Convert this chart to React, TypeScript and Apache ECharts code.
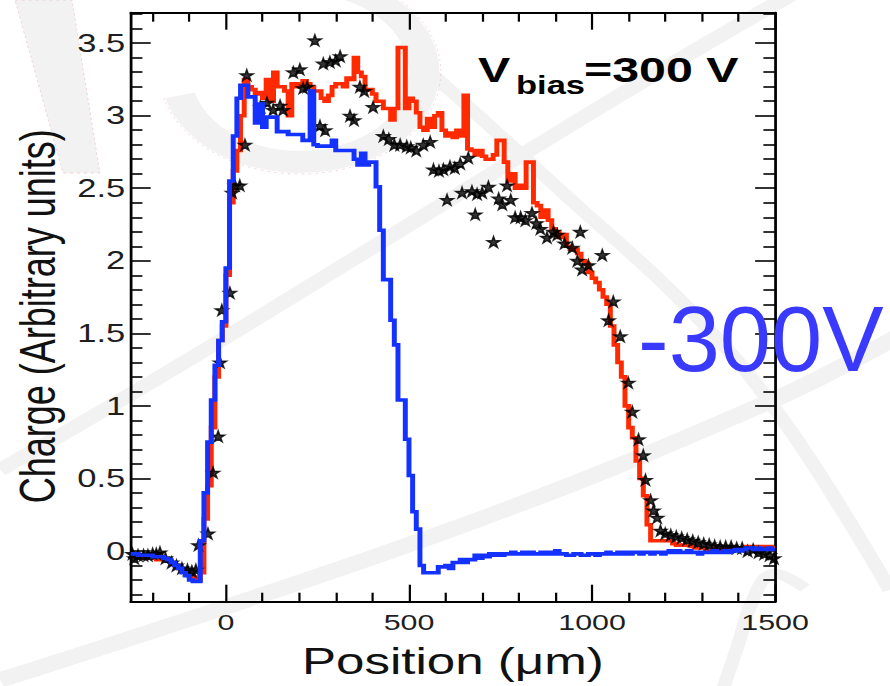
import { useEffect, useRef } from "react";
import * as echarts from "echarts";

// The whole figure is drawn in a narrower frame and widened horizontally.
const STRETCH = 1.38;
const PAGE_W = 890;
const PAGE_H = 686;
const sx = (px: number) => px / STRETCH;

const FONT = '"Liberation Sans", Arial, Helvetica, sans-serif';

const X_MIN = -260;
const X_MAX = 1500;
const Y_MIN = -0.35;
const Y_MAX = 3.71;

// Histogram binning (left edge of the first bin, bin width), in µm
const BIN_START = -260;
const BIN_WIDTH = 10;

const xMajorTicks = [0, 500, 1000, 1500];
const xMinorTicks = [-200, -100, 100, 200, 300, 400, 600, 700, 800, 900, 1100, 1200, 1300, 1400];
const yMajorTicks = [0, 0.5, 1, 1.5, 2, 2.5, 3, 3.5];
const yMinorTicks = [
  -0.3, -0.2, -0.1, 0.1, 0.2, 0.3, 0.4, 0.6, 0.7, 0.8, 0.9, 1.1, 1.2, 1.3, 1.4, 1.6, 1.7,
  1.8, 1.9, 2.1, 2.2, 2.3, 2.4, 2.6, 2.7, 2.8, 2.9, 3.1, 3.2, 3.3, 3.4, 3.6, 3.7,
];

// Simulated charge, red histogram (10 µm bins from -260 µm)
const redCharge = [
  -0.03, -0.04, -0.05, -0.04, -0.04, -0.03, -0.05, -0.06, -0.05, -0.06,
  -0.07, -0.09, -0.1, -0.12, -0.14, -0.15, -0.17, -0.18, -0.2, -0.15,
  0.22, 0.45, 0.85, 1.2, 1.45, 1.55, 1.9, 2.4, 2.62, 2.76,
  3.0, 3.25, 3.2, 3.18, 3.15, 3.16, 3.12, 3.25, 3.1, 3.3,
  3.2, 3.2, 3.17, 3.0, 3.22, 3.2, 3.22, 3.24, 3.22, 3.2,
  3.17, 3.17, 3.12, 3.1, 3.14, 3.2, 3.22, 3.22, 3.2, 3.26,
  3.25, 3.4, 3.3, 3.27, 3.18, 3.18, 3.15, 3.1, 3.1, 3.05,
  3.05, 2.97, 3.05, 3.47, 3.47, 3.05, 3.12, 3.1, 3.02, 2.92,
  2.9, 2.98, 2.92, 3.0, 3.02, 2.9, 2.86, 2.88, 2.85, 2.9,
  2.86, 3.14, 2.77, 2.76, 2.73, 2.76, 2.72, 2.7, 2.7, 2.73,
  2.83, 2.83, 2.68, 2.55, 2.6, 2.5, 2.52, 2.5, 2.68, 2.68,
  2.4, 2.38, 2.3, 2.35, 2.28, 2.22, 2.2, 2.16, 2.18, 2.1,
  2.08, 2.08, 2.05, 2.0, 1.98, 1.92, 1.88, 1.85, 1.8, 1.75,
  1.7, 1.55, 1.42, 1.3, 1.2, 1.0, 0.85, 0.78, 0.62, 0.5,
  0.38, 0.18, 0.07, 0.07, 0.07, 0.07, 0.07, 0.07, 0.05, 0.04,
  0.04, 0.04, 0.04, 0.03, 0.02, 0.02, 0.02, 0.01, 0.01, 0.01,
  0.02, 0.01, 0.01, 0.02, 0.01, 0.02, 0.01, 0.02, 0.03, 0.02,
  0.03, 0.02, 0.03, 0.02, 0.03, 0.02,
];

// Simulated charge, blue histogram (10 µm bins from -260 µm)
const blueCharge = [
  -0.02, -0.02, -0.03, -0.03, -0.03, -0.03, -0.04, -0.04, -0.04, -0.05,
  -0.06, -0.08, -0.1, -0.12, -0.15, -0.17, -0.2, -0.21, -0.21, 0.07,
  0.4, 0.75, 1.04, 1.28, 1.45, 1.58, 1.95, 2.55, 2.86, 3.12,
  3.21, 3.21, 3.13, 3.13, 2.95, 3.08, 2.92, 2.99, 2.99, 2.99,
  2.89, 2.89, 2.89, 2.87, 2.87, 2.87, 2.87, 2.83, 2.83, 3.17,
  2.8, 2.79, 2.79, 2.79, 2.79, 2.83, 2.76, 2.76, 2.76, 2.76,
  2.76, 2.7, 2.66, 2.74, 2.66, 2.68, 2.68, 2.51, 2.21, 1.87,
  1.87, 1.59, 1.42, 1.04, 1.04, 0.77, 0.52, 0.27, 0.15, -0.1,
  -0.15, -0.15, -0.15, -0.15, -0.11, -0.11, -0.1, -0.12, -0.08, -0.08,
  -0.06, -0.08, -0.06, -0.06, -0.03, -0.05, -0.03, -0.04, -0.02, -0.03,
  -0.02, -0.03, -0.02, -0.02, -0.01, -0.02, -0.02, -0.01, -0.02, -0.01,
  -0.02, -0.02, -0.01, -0.02, -0.01, -0.02, 0.0, -0.02, -0.02, -0.03,
  -0.03, -0.02, -0.02, -0.03, -0.03, -0.02, -0.02, -0.03, -0.02, -0.02,
  -0.01, -0.02, -0.02, -0.01, -0.02, -0.01, -0.02, -0.01, -0.01, -0.02,
  -0.01, -0.01, -0.02, -0.01, -0.01, -0.02, -0.01, 0.0, -0.01, 0.0,
  -0.01, -0.01, 0.0, -0.01, -0.01, -0.02, -0.01, -0.01, -0.01, 0.0,
  -0.01, -0.01, 0.0, -0.01, 0.0, 0.01, 0.0, 0.01, 0.02, 0.02,
  0.01, 0.02, 0.01, 0.01, 0.02, 0.01,
];

// Measured points (position in µm, charge)
const measPosition = [
  -255, -250, -240, -225, -213, -200, -190, -180, -165, -148, -135, -120, -105, -93, -82,
  -75, -49, -35, -21, -16, -11, 11, 17, 25, 38, 52, 57,
  95, 112, 129, 148, 156, 184, 202, 211, 222, 243, 257, 266, 271, 284, 300, 312,
  339, 350, 366, 378, 402, 430, 445, 460, 476, 494, 505, 520, 539, 558, 567, 582,
  594, 604, 612, 625, 640, 645, 662, 672, 681, 686, 700, 717, 731, 745, 755, 768,
  778, 790, 805, 818, 836, 848, 859, 877, 895, 905, 925, 946, 960, 968, 973, 990,
  1028, 1045, 1058, 1077, 1099, 1110, 1127, 1140, 1146, 1160, 1168, 1178, 1187, 1200,
  1215, 1230, 1245, 1260, 1275, 1290, 1305, 1320, 1335, 1350, 1365, 1380, 1395, 1410,
  1425, 1440, 1455, 1470, 1485, 1497,
];
const measCharge = [
  -0.02, -0.05, -0.03, -0.03, -0.03, -0.02, -0.02, -0.01, -0.05, -0.08, -0.1, -0.12, -0.13, -0.14, -0.13,
  0.04, 0.12, 0.54, 0.79, 1.3, 1.66, 1.78, 2.47, 2.52, 2.52, 2.8, 3.28,
  3.06, 3.09, 3.04, 3.07, 3.04, 3.3, 3.32, 3.19, 3.2, 3.52, 2.93, 3.36, 2.9, 3.37, 3.38, 3.41,
  3.0, 2.97, 3.2, 3.17, 3.06, 2.86, 2.84, 2.8, 2.8, 2.79, 2.78, 2.76, 2.8, 2.82, 2.63, 2.62,
  2.63, 2.42, 2.65, 2.64, 2.67, 2.47, 2.71, 2.48, 2.32, 2.46, 2.47, 2.51, 2.13, 2.43, 2.39, 2.52,
  2.42, 2.3, 2.3, 2.28, 2.33, 2.26, 2.22, 2.16, 2.2, 2.18, 2.12, 2.09, 2.0, 2.2, 1.94, 1.97,
  2.04, 1.59, 1.72, 1.48, 1.16, 0.96, 0.77, 0.66, 0.49, 0.35, 0.28, 0.23, 0.14, 0.12,
  0.11, 0.1, 0.09, 0.08, 0.07, 0.06, 0.05, 0.045, 0.035, 0.03, 0.03, 0.03, 0.02, 0.02,
  0.0, 0.01, -0.01, -0.02, -0.03, -0.05,
];

const histogramSteps = (values: number[]) => {
  const pts = values.map((v, i) => [BIN_START + i * BIN_WIDTH, v]);
  pts.push([BIN_START + values.length * BIN_WIDTH, values[values.length - 1]]);
  return pts;
};

const STAR =
  "path://M50,0 L61,35 L98,35 L68,57 L79,91 L50,70 L21,91 L32,57 L2,35 L39,35 Z";

const frameLine = { show: true, onZero: false, lineStyle: { color: "#000", width: 2 } };
const tickStyle = { color: "#000", width: 1.6 };
const plainNumber = (v: number) => String(v);

const xAxisBase = {
  type: "value" as const,
  min: X_MIN,
  max: X_MAX,
  splitLine: { show: false },
};
const yAxisBase = {
  type: "value" as const,
  min: Y_MIN,
  max: Y_MAX,
  splitLine: { show: false },
};

const BAND = "#f2f2f2";

function buildOption() {
  return {
    animation: false,
    backgroundColor: "#ffffff",
    grid: {
      left: sx(130.7),
      right: sx(115),
      top: 12.7,
      bottom: 84.3,
      containLabel: false,
      outerBoundsMode: "none",
    },
    graphic: [
      // faint watermark swooshes behind the plot
      {
        type: "polygon",
        z: -10,
        silent: true,
        shape: { points: [[sx(15), 0], [sx(72), 0], [sx(100), 173], [sx(63), 173]] },
        style: { fill: "#f2f2f2", stroke: "rgba(225,120,120,0.45)", lineWidth: 0.6, lineDash: [2, 3] },
      },
      {
        type: "bezierCurve",
        z: -10,
        silent: true,
        shape: {
          x1: sx(0), y1: 470, cpx1: sx(300), cpy1: 300, cpx2: sx(550), cpy2: 130, x2: sx(800), y2: -10,
        },
        style: { stroke: BAND, lineWidth: 13, fill: "none" },
      },
      {
        type: "polyline",
        z: -10,
        silent: true,
        shape: {
          points: [[sx(400), 45], [sx(560), 190], [sx(700), 320], [sx(790), 430], [sx(890), 590]],
          smooth: 0.4,
        },
        style: { stroke: BAND, lineWidth: 11, fill: "none" },
      },
      {
        type: "polyline",
        z: -10,
        silent: true,
        shape: {
          points: [[sx(0), 680], [sx(450), 530], [sx(773), 400], [sx(900), 335]],
          smooth: 0.4,
        },
        style: { stroke: BAND, lineWidth: 15, fill: "none" },
      },
      {
        type: "arc",
        z: -10,
        silent: true,
        shape: {
          cx: sx(300), cy: 72, r: 90,
          startAngle: (-100 * Math.PI) / 180, endAngle: (165 * Math.PI) / 180, clockwise: true,
        },
        style: { stroke: "#f2f2f2", lineWidth: 22, fill: "none" },
      },
      {
        type: "arc",
        z: -9,
        silent: true,
        shape: {
          cx: sx(300), cy: 72, r: 102,
          startAngle: (-100 * Math.PI) / 180, endAngle: (165 * Math.PI) / 180, clockwise: true,
        },
        style: { stroke: "rgba(225,120,120,0.4)", lineWidth: 0.6, lineDash: [2, 3], fill: "none" },
      },
      {
        type: "polyline",
        z: -10,
        silent: true,
        shape: {
          points: [[sx(805), 588], [sx(772), 574], [sx(752), 602], [sx(738), 645], [sx(722), 692]],
          smooth: 0.4,
        },
        style: { stroke: BAND, lineWidth: 10, fill: "none" },
      },
      // bias voltage annotation
      {
        type: "text",
        z: 10,
        x: sx(478),
        y: 69.5,
        style: {
          text: "V", fill: "#000", fontFamily: FONT, fontWeight: "bold", fontSize: 35,
          align: "left", verticalAlign: "middle",
        },
      },
      {
        type: "text",
        z: 10,
        x: sx(516),
        y: 85,
        style: {
          text: "bias", fill: "#000", fontFamily: FONT, fontWeight: "bold", fontSize: 25,
          align: "left", verticalAlign: "middle",
        },
      },
      {
        type: "text",
        z: 10,
        x: sx(584),
        y: 69.5,
        style: {
          text: "=300 V", fill: "#000", fontFamily: FONT, fontWeight: "bold", fontSize: 35,
          align: "left", verticalAlign: "middle",
        },
      },
      {
        type: "text",
        z: 20,
        x: sx(638),
        y: 340,
        scaleX: 1 / STRETCH,
        style: {
          text: "-300V", fill: "#3a3aff", fontFamily: FONT, fontSize: 92,
          align: "left", verticalAlign: "middle",
        },
      },
    ],
    xAxis: [
      {
        ...xAxisBase,
        position: "bottom",
        axisLine: frameLine,
        axisTick: { show: true, inside: true, length: 17, customValues: xMajorTicks, lineStyle: tickStyle },
        axisLabel: {
          show: true, customValues: xMajorTicks, margin: 10, fontSize: 22,
          color: "#1e1e1e", fontFamily: FONT, formatter: plainNumber,
        },
        name: "Position (μm)",
        nameLocation: "middle",
        nameGap: 41,
        nameTextStyle: { fontSize: 37, color: "#111", fontFamily: FONT },
      },
      {
        ...xAxisBase,
        position: "bottom",
        axisLine: { show: false, onZero: false },
        axisTick: { show: true, inside: true, length: 9, customValues: xMinorTicks, lineStyle: tickStyle },
        axisLabel: { show: false },
      },
      {
        ...xAxisBase,
        position: "top",
        axisLine: frameLine,
        axisTick: { show: true, inside: true, length: 17, customValues: xMajorTicks, lineStyle: tickStyle },
        axisLabel: { show: false },
      },
      {
        ...xAxisBase,
        position: "top",
        axisLine: { show: false, onZero: false },
        axisTick: { show: true, inside: true, length: 9, customValues: xMinorTicks, lineStyle: tickStyle },
        axisLabel: { show: false },
      },
    ],
    yAxis: [
      {
        ...yAxisBase,
        position: "left",
        axisLine: frameLine,
        axisTick: { show: true, inside: true, length: 14.5, customValues: yMajorTicks, lineStyle: tickStyle },
        axisLabel: {
          show: true, customValues: yMajorTicks, margin: 4, fontSize: 25,
          color: "#1e1e1e", fontFamily: FONT, formatter: plainNumber,
        },
        name: "Charge (Arbitrary units)",
        nameLocation: "middle",
        nameRotate: 90,
        nameGap: 40,
        nameTextStyle: { fontSize: 36, color: "#111", fontFamily: FONT, padding: [0, 18, 0, 0] },
      },
      {
        ...yAxisBase,
        position: "left",
        axisLine: { show: false, onZero: false },
        axisTick: { show: true, inside: true, length: 8.5, customValues: yMinorTicks, lineStyle: tickStyle },
        axisLabel: { show: false },
      },
      {
        ...yAxisBase,
        position: "right",
        axisLine: frameLine,
        axisTick: { show: true, inside: true, length: 14.5, customValues: yMajorTicks, lineStyle: tickStyle },
        axisLabel: { show: false },
      },
      {
        ...yAxisBase,
        position: "right",
        axisLine: { show: false, onZero: false },
        axisTick: { show: true, inside: true, length: 8.5, customValues: yMinorTicks, lineStyle: tickStyle },
        axisLabel: { show: false },
      },
    ],
    series: [
      {
        type: "line",
        name: "red",
        step: "end",
        data: histogramSteps(redCharge),
        showSymbol: false,
        clip: true,
        lineStyle: { color: "#ff2a00", width: 3.6, join: "miter" },
        z: 3,
      },
      {
        type: "scatter",
        name: "data",
        data: measPosition.map((p, i) => [p, measCharge[i]]),
        symbol: STAR,
        symbolSize: [9.5, 11],
        itemStyle: { color: "#000", borderColor: "#000", borderWidth: 1.2 },
        z: 4,
      },
      {
        type: "line",
        name: "blue",
        step: "end",
        data: histogramSteps(blueCharge),
        showSymbol: false,
        clip: true,
        lineStyle: { color: "#1432ff", width: 3.6, join: "miter" },
        z: 5,
      },
    ],
  };
}

export default function App() {
  const ref = useRef<HTMLDivElement>(null);

  useEffect(() => {
    if (!ref.current) return;
    const chart = echarts.init(ref.current, null, { renderer: "svg" });
    chart.setOption(buildOption() as any);
    return () => chart.dispose();
  }, []);

  return (
    <div
      style={{
        position: "fixed",
        left: 0,
        top: 0,
        width: PAGE_W / STRETCH,
        height: PAGE_H,
        transform: `scaleX(${STRETCH})`,
        transformOrigin: "0 0",
        background: "#fff",
      }}
    >
      <div ref={ref} style={{ width: "100%", height: "100%" }} />
    </div>
  );
}
